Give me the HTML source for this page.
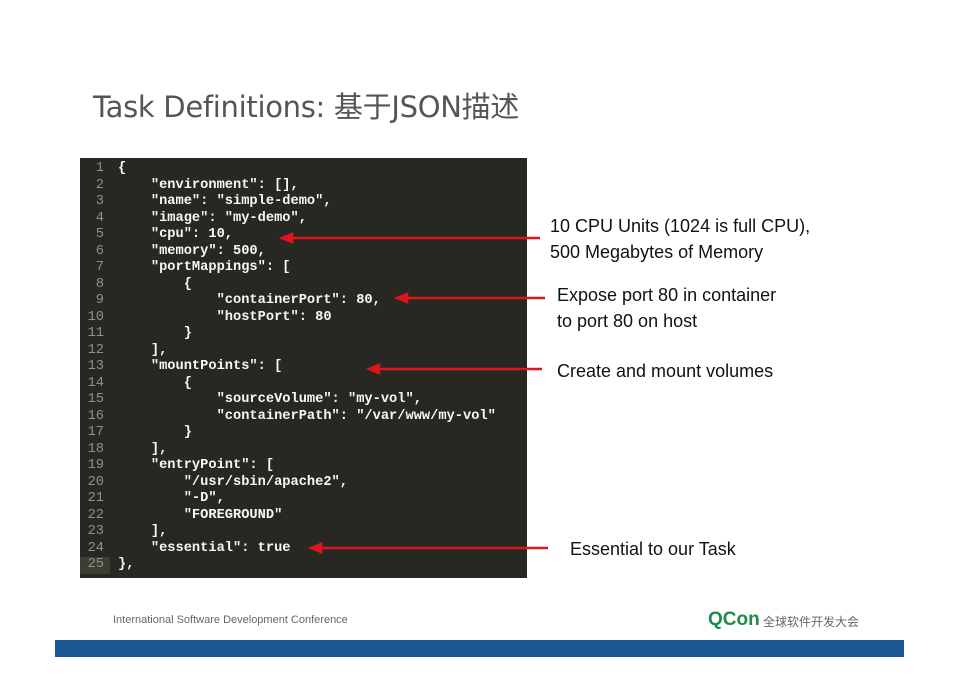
<!DOCTYPE html>
<html><head><meta charset="utf-8"><style>
body{margin:0;width:959px;height:678px;background:#fff;position:relative;overflow:hidden;font-family:"Liberation Sans","Noto Sans CJK SC",sans-serif}
.t{position:absolute;left:93px;top:84px;font-size:29px;color:#555;font-family:"DejaVu Sans","Noto Sans CJK SC",sans-serif;letter-spacing:-0.3px}
.code{position:absolute;left:80px;top:158px;width:447px;height:420px;background:#272822}
pre{margin:0;position:absolute;font-family:"Liberation Mono",monospace;font-size:13.7px;line-height:16.5px;font-weight:bold}
.num{left:80px;top:161px;width:24px;text-align:right;color:#8f908a;font-weight:normal}
.src{left:118px;top:161px;color:#f8f8f2}
.lbl{position:absolute;font-size:18px;color:#111;line-height:26px}
.bar{position:absolute;left:55px;top:640px;width:849px;height:17px;background:#1d5793}
</style></head><body>
<div class="t">Task Definitions: 基于JSON描述</div>
<div class="code"></div>
<div style="position:absolute;left:80px;top:557px;width:30px;height:17px;background:#3e3d32"></div>
<pre class="num">1
2
3
4
5
6
7
8
9
10
11
12
13
14
15
16
17
18
19
20
21
22
23
24
25</pre>
<pre class="src">{
    "environment": [],
    "name": "simple-demo",
    "image": "my-demo",
    "cpu": 10,
    "memory": 500,
    "portMappings": [
        {
            "containerPort": 80,
            "hostPort": 80
        }
    ],
    "mountPoints": [
        {
            "sourceVolume": "my-vol",
            "containerPath": "/var/www/my-vol"
        }
    ],
    "entryPoint": [
        "/usr/sbin/apache2",
        "-D",
        "FOREGROUND"
    ],
    "essential": true
},</pre>
<svg style="position:absolute;left:0;top:0" width="959" height="678">
<g stroke="#e0141e" stroke-width="2.5" fill="#e0141e">
<line x1="290" y1="238" x2="540" y2="238"/><polygon points="282,238 292,234 292,242"/>
<line x1="405" y1="298" x2="545" y2="298"/><polygon points="397,298 407,294 407,302"/>
<line x1="377" y1="369" x2="542" y2="369"/><polygon points="369,369 379,365 379,373"/>
<line x1="319" y1="548" x2="548" y2="548"/><polygon points="311,548 321,544 321,552"/>
</g></svg>
<div class="lbl" style="left:550px;top:213px">10 CPU Units (1024 is full CPU),<br>500 Megabytes of Memory</div>
<div class="lbl" style="left:557px;top:282px">Expose port 80 in container<br>to port 80 on host</div>
<div class="lbl" style="left:557px;top:358px">Create and mount volumes</div>
<div class="lbl" style="left:570px;top:536px">Essential to our Task</div>
<div style="position:absolute;left:113px;top:614px;font-size:11px;color:#666">International Software Development Conference</div>
<div style="position:absolute;left:708px;top:609px;font-size:19px;font-weight:bold;color:#1f8a4c">QCon</div>
<div style="position:absolute;left:763px;top:613px;font-size:12px;color:#666">全球软件开发大会</div>
<div class="bar"></div>
</body></html>
